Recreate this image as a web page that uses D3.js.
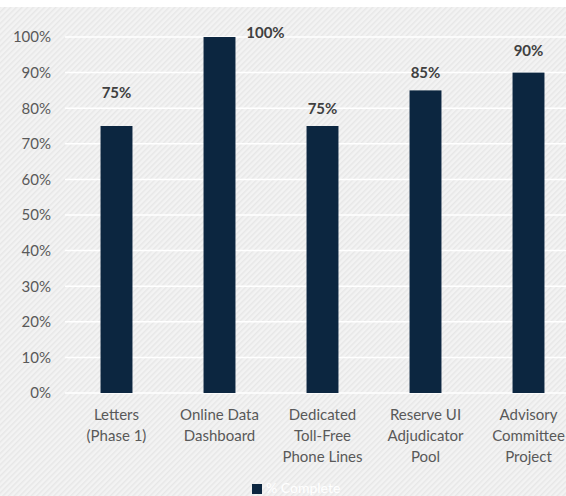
<!DOCTYPE html>
<html>
<head>
<meta charset="utf-8">
<script src="https://cdn.jsdelivr.net/npm/d3@7"></script>
<style>
  body { margin: 0; background: #fff; }
  svg { display: block; font-family: Lato, "Open Sans", sans-serif; }
</style>
</head>
<body>
<svg id="chart" width="566" height="496"></svg>
<script>
// data
const categories = [
  ["Letters", "(Phase 1)"],
  ["Online Data", "Dashboard"],
  ["Dedicated", "Toll-Free", "Phone Lines"],
  ["Reserve UI", "Adjudicator", "Pool"],
  ["Advisory", "Committee", "Project"]
];
const values = [75, 100, 75, 85, 90];
const yTicks = [0, 10, 20, 30, 40, 50, 60, 70, 80, 90, 100];
const seriesName = "% Complete";

// value labels were dragged by hand in the original, so nudge them (px above bar top)
const labelLift = [32, 3, 16, 16, 20];

const svg = d3.select('#chart');
const W = 566, H = 496;

// hatched background
const defs = svg.append('defs');
const pat = defs.append('pattern')
  .attr('id', 'hatch')
  .attr('patternUnits', 'userSpaceOnUse')
  .attr('width', 4).attr('height', 4)
  .attr('patternTransform', 'rotate(45)');
pat.append('rect').attr('width', 4).attr('height', 4).attr('fill', '#f3f3f3');
pat.append('rect').attr('x', 0).attr('width', 1.5).attr('height', 4).attr('fill', '#e7e7e7');

svg.append('rect')
  .attr('x', 0).attr('y', 7)
  .attr('width', W).attr('height', H - 7)
  .attr('fill', 'url(#hatch)');

const plotLeft = 65, plotRight = 580;
const plotTop = 37, plotBottom = 393;

const x = d3.scaleBand()
  .domain(d3.range(categories.length))
  .range([plotLeft, plotRight])
  .paddingInner(0.69)
  .paddingOuter(0.345);

const y = d3.scaleLinear().domain([0, 100]).range([plotBottom, plotTop]);

// gridlines
svg.append('g')
  .selectAll('line')
  .data(yTicks)
  .join('line')
  .attr('x1', plotLeft).attr('x2', W)
  .attr('y1', d => y(d)).attr('y2', d => y(d))
  .attr('stroke', '#ffffff')
  .attr('stroke-width', 1.5);

// y axis labels
const yAxis = d3.axisLeft(y)
  .tickValues(yTicks)
  .tickSize(0)
  .tickPadding(14)
  .tickFormat(d => d + '%');
svg.append('g')
  .attr('transform', `translate(${plotLeft},0)`)
  .call(yAxis)
  .call(g => g.select('.domain').remove())
  .call(g => g.selectAll('text')
    .attr('fill', '#595959')
    .style('font-size', '15px')
    .style('font-family', 'Lato, "Open Sans", sans-serif'));

// bars
svg.append('g')
  .selectAll('rect')
  .data(values)
  .join('rect')
  .attr('x', (d, i) => x(i))
  .attr('width', x.bandwidth())
  .attr('y', d => y(d))
  .attr('height', d => y(0) - y(d))
  .attr('fill', '#0c2640');

// value labels (the 100% one sits to the right, like the original)
svg.append('g')
  .selectAll('text')
  .data(values)
  .join('text')
  .attr('x', (d, i) => d >= 100 ? x(i) + x.bandwidth() + 30 : x(i) + x.bandwidth() / 2)
  .attr('y', (d, i) => y(d) - labelLift[i])
  .attr('text-anchor', 'middle')
  .attr('dominant-baseline', 'middle')
  .attr('fill', '#404040')
  .style('font-size', '15px')
  .style('font-weight', 'bold')
  .text(d => d + '%');

// category labels
const cat = svg.append('g')
  .selectAll('text')
  .data(categories)
  .join('text')
  .attr('text-anchor', 'middle')
  .attr('fill', '#595959')
  .style('font-size', '15px');
cat.selectAll('tspan')
  .data((d, i) => d.map(s => ({s, i})))
  .join('tspan')
  .attr('x', d => x(d.i) + x.bandwidth() / 2)
  .attr('y', (d, j) => 420 + j * 21)
  .text(d => d.s);

// legend (white text, barely visible in the original)
const lg = svg.append('g').attr('transform', 'translate(252,484)');
lg.append('rect').attr('width', 10).attr('height', 10).attr('fill', '#0c2640');
lg.append('text')
  .attr('x', 14).attr('y', 9)
  .attr('fill', '#ffffff')
  .style('font-size', '14px')
  .text(seriesName);
</script>
</body>
</html>
